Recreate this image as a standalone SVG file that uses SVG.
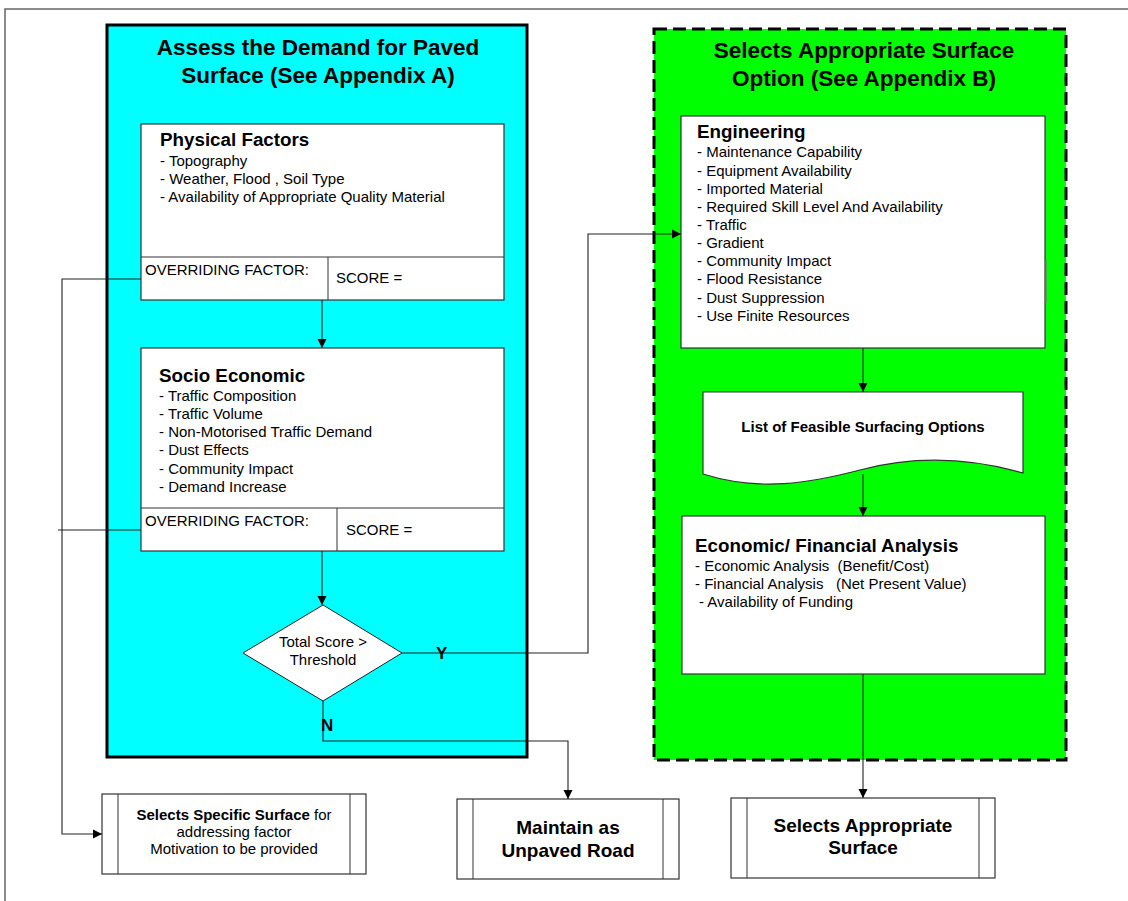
<svg xmlns="http://www.w3.org/2000/svg" width="1128" height="901" viewBox="0 0 1128 901">
<style>
text{font-family:"Liberation Sans",Arial,sans-serif;fill:#000}
.t{font-size:22.5px;font-weight:bold;text-anchor:middle}
.h{font-size:18.8px;font-weight:bold}
.b{font-size:15px}
.bb{font-size:15px;font-weight:bold}
.big{font-size:19px;font-weight:bold;text-anchor:middle}
.box{fill:#fff;stroke:#333;stroke-width:1.2}
.ln{fill:none;stroke:#333;stroke-width:1}
.c{fill:none;stroke:#222;stroke-width:1.1}
</style>
<defs>
<marker id="arr" markerWidth="10" markerHeight="10" refX="9" refY="5" orient="auto" markerUnits="userSpaceOnUse"><path d="M0,0.5 L9,5 L0,9.5 Z" fill="#000"/></marker>
</defs>
<rect x="0" y="0" width="1128" height="901" fill="#fff"/>
<path d="M5,901 V9 H1128" fill="none" stroke="#666" stroke-width="1.5"/>

<g id="panel-demand">
<rect x="107" y="25" width="420" height="732" fill="#00FFFF" stroke="#000" stroke-width="3"/>
<text class="t" x="318" y="55">Assess the Demand for Paved</text>
<text class="t" x="318" y="83">Surface (See Appendix A)</text>
</g>

<g id="panel-options">
<rect x="654" y="29" width="412" height="731" fill="#00FF00" stroke="#000" stroke-width="3" stroke-dasharray="13 6"/>
<text class="t" x="864" y="58">Selects Appropriate Surface</text>
<text class="t" x="864" y="86">Option (See Appendix B)</text>
</g>

<g id="connectors">
<line class="c" x1="322" y1="300" x2="322" y2="348" marker-end="url(#arr)"/>
<line class="c" x1="322" y1="551" x2="322" y2="605" marker-end="url(#arr)"/>
<polyline class="c" points="141,279 62,279 62,834 102,834" marker-end="url(#arr)"/>
<line class="c" x1="141" y1="530" x2="58" y2="530"/>
<polyline class="c" points="402,653 588,653 588,234 681,234" marker-end="url(#arr)"/>
<polyline class="c" points="323,701 323,741 568,741 568,799" marker-end="url(#arr)"/>
<line class="c" x1="863" y1="348" x2="863" y2="392" marker-end="url(#arr)"/>
<line class="c" x1="863" y1="474" x2="863" y2="516" marker-end="url(#arr)"/>
<line class="c" x1="863" y1="674" x2="863" y2="798" marker-end="url(#arr)"/>
<text class="h" x="436" y="659" style="font-size:17px">Y</text>
<text class="h" x="321" y="731" style="font-size:17px">N</text>
</g>

<g id="physical-factors">
<rect class="box" x="141" y="124" width="363" height="176"/>
<line class="ln" x1="141" y1="257" x2="504" y2="257"/>
<line class="ln" x1="328" y1="257" x2="328" y2="300"/>
<text class="h" x="160" y="146">Physical Factors</text>
<text class="b" x="160" y="166">- Topography</text>
<text class="b" x="160" y="184">- Weather, Flood , Soil Type</text>
<text class="b" x="160" y="202">- Availability of Appropriate Quality Material</text>
<text class="b" x="145" y="275">OVERRIDING FACTOR:</text>
<text class="b" x="336" y="283">SCORE =</text>
</g>

<g id="socio-economic">
<rect class="box" x="141" y="348" width="363" height="203"/>
<line class="ln" x1="141" y1="508" x2="504" y2="508"/>
<line class="ln" x1="337" y1="508" x2="337" y2="551"/>
<text class="h" x="159" y="382">Socio Economic</text>
<text class="b" x="159" y="401">- Traffic Composition</text>
<text class="b" x="159" y="419">- Traffic Volume</text>
<text class="b" x="159" y="437">- Non-Motorised Traffic Demand</text>
<text class="b" x="159" y="455">- Dust Effects</text>
<text class="b" x="159" y="474">- Community Impact</text>
<text class="b" x="159" y="492">- Demand Increase</text>
<text class="b" x="145" y="526">OVERRIDING FACTOR:</text>
<text class="b" x="346" y="535">SCORE =</text>
</g>

<g id="threshold">
<polygon points="323,605 402,653 323,701 243,653" fill="#fff" stroke="#222" stroke-width="1"/>
<text class="b" x="323" y="647" text-anchor="middle">Total Score &gt;</text>
<text class="b" x="323" y="665" text-anchor="middle">Threshold</text>
</g>

<g id="engineering">
<rect class="box" x="681" y="116" width="364" height="232"/>
<line x1="1046" y1="260" x2="1046" y2="303" stroke="#777" stroke-width="1"/>
<text class="h" x="697" y="138">Engineering</text>
<text class="b" x="697" y="157">- Maintenance Capability</text>
<text class="b" x="697" y="176">- Equipment Availability</text>
<text class="b" x="697" y="194">- Imported Material</text>
<text class="b" x="697" y="212">- Required Skill Level And Availability</text>
<text class="b" x="697" y="230">- Traffic</text>
<text class="b" x="697" y="248">- Gradient</text>
<text class="b" x="697" y="266">- Community Impact</text>
<text class="b" x="697" y="284">- Flood Resistance</text>
<text class="b" x="697" y="303">- Dust Suppression</text>
<text class="b" x="697" y="321">- Use Finite Resources</text>
</g>

<g id="feasible-options">
<path d="M703,392 H1023 V473 C960,455 905,458 860,470 C810,483 760,492 703,474 Z" fill="#fff" stroke="#333" stroke-width="1.2"/>
<text class="bb" x="863" y="432" text-anchor="middle">List of Feasible Surfacing Options</text>
</g>

<g id="economic-analysis">
<rect class="box" x="682" y="516" width="363" height="158"/>
<text class="h" x="695" y="552">Economic/ Financial Analysis</text>
<text class="b" x="695" y="571" xml:space="preserve">- Economic Analysis  (Benefit/Cost)</text>
<text class="b" x="695" y="589" xml:space="preserve">- Financial Analysis   (Net Present Value)</text>
<text class="b" x="699" y="607">- Availability of Funding</text>
</g>

<g id="selects-specific">
<rect class="box" x="102" y="794" width="264" height="80"/>
<line class="ln" x1="118" y1="794" x2="118" y2="874"/>
<line class="ln" x1="350" y1="794" x2="350" y2="874"/>
<text class="b" x="234" y="820" text-anchor="middle"><tspan font-weight="bold">Selects Specific Surface</tspan> for</text>
<text class="b" x="234" y="837" text-anchor="middle">addressing factor</text>
<text class="b" x="234" y="854" text-anchor="middle">Motivation to be provided</text>
</g>

<g id="maintain-unpaved">
<rect class="box" x="457" y="799" width="222" height="80"/>
<line class="ln" x1="473" y1="799" x2="473" y2="879"/>
<line class="ln" x1="663" y1="799" x2="663" y2="879"/>
<text class="big" x="568" y="834">Maintain as</text>
<text class="big" x="568" y="857">Unpaved Road</text>
</g>

<g id="selects-appropriate">
<rect class="box" x="731" y="798" width="264" height="80"/>
<line class="ln" x1="747" y1="798" x2="747" y2="878"/>
<line class="ln" x1="979" y1="798" x2="979" y2="878"/>
<text class="big" x="863" y="832">Selects Appropriate</text>
<text class="big" x="863" y="854">Surface</text>
</g>
</svg>
